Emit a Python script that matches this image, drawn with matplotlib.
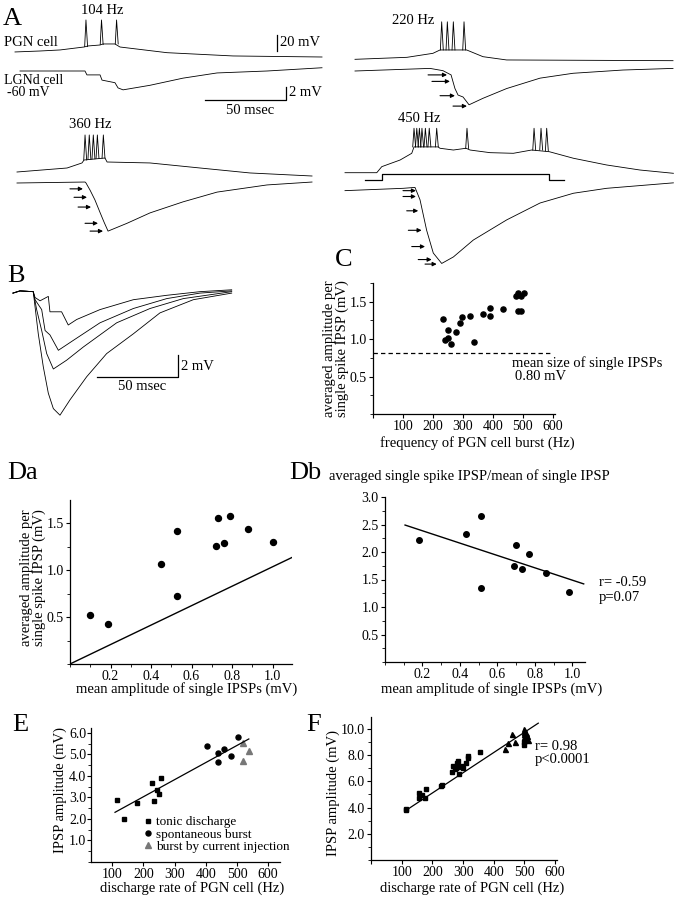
import numpy as np
import matplotlib
matplotlib.use("Agg")
import matplotlib.pyplot as plt
from matplotlib.ticker import MultipleLocator, FormatStrFormatter

W, H = 681, 899
PX_PER_MS = 1.62

plt.rcParams['font.family'] = ['Liberation Serif', 'DejaVu Serif']
plt.rcParams['font.size'] = 10.5

# ---------------- A: paired recordings (ms, mV) ----------------
# 104 Hz
pgn104_t = [0, 15.4, 27.8, 42.6, 45.1, 52.5, 54.3, 61.7, 64.8, 93.8, 134.6, 189.5]
pgn104_v = [6.3, 7.5, 8.8, 12.5, 13.8, 15.0, 16.3, 16.3, 12.5, 5.4, 1.3, 0.0]
pgn104_spk = [43.8, 53.4, 62.7]
pgn104_spk_base = [13.0, 15.5, 16.3]
pgn104_spk_peak = 46.3
lgn104_t = [3.1, 43.2, 44.4, 52.5, 53.7, 61.7, 63.6, 66.7, 83.3, 103.7, 124.7, 155.6, 189.5]
lgn104_v = [0, 0, -0.6, -0.6, -1.4, -1.8, -2.6, -2.9, -2.2, -1.1, -0.3, 0, 0.5]

# 220 Hz
pgn220_t = [0, 32.1, 48.1, 52.5, 68.9, 79.0, 93.6, 196.3]
pgn220_v = [2.1, 4.6, 9.6, 13.8, 13.8, 5.4, 1.3, 0.4]
pgn220_spk = [53.5, 57.0, 60.7, 67.3]
pgn220_spk_base = [13.8, 13.8, 13.8, 13.8]
pgn220_spk_peak = 49.0
lgn220_t = [0, 46.3, 54.3, 59.3, 61.7, 63.6, 66.7, 70.4, 79.0, 93.6, 114.2, 134.6, 165.4, 196.3]
lgn220_v = [0, 0.4, 0.05, -0.6, -2.7, -3.7, -4.0, -5.2, -4.2, -2.7, -1.1, -0.35, 0.15, 0.4]
arr220_v = [-0.6, -1.6, -3.8, -5.4]
arr220_tail = [45.1, 47.5, 52.5, 60.5]
arr220_head = [56.8, 58.6, 61.7, 69.1]

# 360 Hz
pgn360_t = [0, 30.9, 40.1, 41.4, 54.3, 55.6, 82.1, 113.0, 143.8, 182.1]
pgn360_v = [5, 10, 16.3, 20, 22.5, 17.5, 16.3, 10, 3.8, 0]
pgn360_spk = [42.0, 44.6, 47.1, 49.6, 53.3]
pgn360_spk_base = [20, 21, 21.5, 22, 22.3]
pgn360_spk_peak = 51.3
lgn360_t = [0, 42, 42.6, 45.1, 48.1, 51.2, 53.7, 56.2, 67.9, 82.1, 102.5, 123.5, 154.3, 182.1]
lgn360_v = [0, 0.15, 0, -1.1, -2.6, -4.5, -6.0, -7.4, -6.2, -4.6, -2.9, -1.4, -0.3, 0.15]
arr360_v = [-0.9, -2.2, -3.7, -6.2, -7.4]
arr360_tail = [32.7, 35.2, 37.7, 42.0, 45.1]
arr360_head = [40.7, 43.2, 45.7, 50.0, 53.1]

# 450 Hz
pgn450_t = [0, 19.6, 22.7, 34, 41.2, 42.6, 57.5, 58.6, 66.9, 74.7, 77.2, 89.5, 103.9, 115.2,
            126.1, 141, 161.5, 182.1, 202.7]
pgn450_v = [0.75, 0.75, 8.3, 16.6, 25, 33, 33, 31.3, 29.1, 31.3, 29.1, 25.8, 25, 29.1,
            27, 18.8, 10.4, 4.1, 0]
pgn450_spk = [42.6, 44.3, 45.9, 47.5, 49.6, 52.0, 56.6, 75.3, 116.7, 121.0, 124.5]
pgn450_spk_base = [33, 33, 33, 33, 33, 33, 33, 31, 29, 29, 28]
pgn450_spk_peak = 56.3
step450_t = [12.3, 22.7, 22.7, 125.7, 125.7, 135.4]
step450_v = [-8.4, -8.4, -0.9, -0.9, -8.4, -8.4]
lgn450_t = [0, 36, 43.2, 46.3, 50.4, 54.5, 59.7, 66.9, 79.2, 99.8, 120.4, 141, 161.5, 202.7]
lgn450_v = [-0.1, 0.26, 0.4, -1.5, -6.2, -9.7, -11.3, -10.3, -7.7, -4.6, -2.0, -0.5, 0.26, 1.1]
arr450_v = [-0.1, -1.0, -3.2, -6.2, -8.7, -10.7, -11.4]
arr450_tail = [35.8, 35.8, 38.1, 39.1, 41.2, 45.2, 49.4]
arr450_head = [43.8, 43.8, 45.2, 47.3, 49.4, 53.5, 56.6]

# ---------------- B: superimposed IPSPs (ms, mV) ----------------
b1_t = [0, 4.3, 12.5, 13.6, 16.7, 21.8, 22.8, 30.0, 34.1, 39.3, 53.7, 74.3, 94.9, 115.4, 135]
b1_v = [-0.1, 0.1, 0.03, -0.5, -0.8, -0.4, -1.8, -1.8, -3.0, -2.5, -1.6, -0.7, -0.3, 0.03, 0.2]
b2_t = [0, 4.3, 12.5, 13.6, 17.7, 19.8, 22.8, 28.0, 37.2, 53.7, 74.3, 94.9, 115.4, 135]
b2_v = [-0.1, 0.1, 0.03, -0.7, -1.6, -3.5, -3.9, -5.3, -4.4, -2.8, -1.5, -0.6, -0.1, 0.1]
b3_t = [0, 4.3, 12.5, 14.6, 17.7, 20.8, 24.9, 33.1, 43.4, 64.0, 84.6, 105.1, 135]
b3_v = [-0.1, 0.1, 0.03, -1.6, -3.5, -5.6, -7.0, -6.2, -5.0, -2.8, -1.5, -0.6, 0.03]
b4_t = [0, 4.3, 12.5, 15.6, 18.7, 21.8, 24.9, 29.0, 35.2, 45.5, 57.8, 74.3, 90.7, 111.3, 135]
b4_v = [-0.1, 0.1, 0.03, -3.8, -6.8, -9.2, -10.6, -11.2, -9.8, -7.7, -5.6, -3.8, -1.9, -0.7, -0.1]

# ---------------- C ----------------
c_freq = [232, 239, 249, 249, 261, 276, 291, 298, 324, 337, 366, 391, 391, 435,
          478, 484, 495, 504, 482, 495]
c_amp = [1.27, 0.99, 1.12, 1.02, 0.93, 1.10, 1.21, 1.30, 1.31, 0.96, 1.33, 1.31, 1.42, 1.40,
         1.58, 1.62, 1.58, 1.62, 1.38, 1.37]
c_single_mean = 0.82
c_dash_end = 590

# ---------------- Da / Db ----------------
da_single = [0.10, 0.19, 0.45, 0.53, 0.53, 0.72, 0.73, 0.76, 0.79, 0.88, 1.00]
da_avg = [0.52, 0.43, 1.06, 1.42, 0.72, 1.26, 1.55, 1.29, 1.57, 1.44, 1.30]
da_line_x = [0, 1.165]
da_line_y = [0, 1.205]

db_single = [0.18, 0.43, 0.51, 0.51, 0.70, 0.69, 0.73, 0.77, 0.86, 0.98]
db_ratio = [2.22, 2.33, 2.66, 1.34, 2.12, 1.75, 1.70, 1.96, 1.62, 1.28]
db_fit_x = [0.107, 1.06]
db_fit_y = [2.49, 1.42]

# ---------------- E ----------------
e_tonic_hz = [115, 137, 178, 228, 255, 245, 250, 234]
e_tonic_mv = [2.88, 2.00, 2.76, 3.66, 3.91, 3.36, 3.18, 2.84]
e_spont_hz = [404, 440, 440, 459, 481, 504]
e_spont_mv = [5.38, 5.05, 4.67, 5.26, 4.92, 5.81]
e_inj_hz = [519, 519, 538]
e_inj_mv = [5.53, 4.71, 5.14]
e_fit_x = [109, 538]
e_fit_y = [2.31, 5.72]

# ---------------- F ----------------
f_sq_hz = [113, 115, 156, 158, 165, 176, 178, 228, 231, 263, 268, 274, 279, 284, 288, 295,
           276, 282, 300, 309, 317, 317, 355, 497, 497]
f_sq_mv = [3.90, 3.78, 5.14, 4.72, 4.92, 4.76, 5.44, 5.65, 5.74, 6.67, 7.18, 6.92, 7.43, 7.12,
           6.56, 7.18, 7.00, 7.55, 7.00, 7.38, 7.94, 7.78, 8.27, 9.03, 8.78]
f_tri_hz = [436, 445, 460, 469, 497, 499, 506, 508, 497, 510, 497]
f_tri_mv = [8.47, 8.90, 9.62, 9.03, 9.97, 9.79, 9.67, 9.47, 9.37, 9.11, 9.60]
f_fit_x = [121, 545]
f_fit_y = [3.89, 10.43]

fig = plt.figure(figsize=(W / 100, H / 100), dpi=100)


def ptext(x, y, s, **kw):
    kw.setdefault('va', 'center')
    kw.setdefault('ha', 'left')
    return fig.text(x / W, 1 - y / H, s, **kw)


def trace_axes(x0, y0, sy, t_lim, v_lim):
    left = x0 + t_lim[0] * PX_PER_MS
    width = (t_lim[1] - t_lim[0]) * PX_PER_MS
    bottom = y0 - v_lim[0] * sy
    height = (v_lim[1] - v_lim[0]) * sy
    ax = fig.add_axes([left / W, 1 - bottom / H, width / W, height / H])
    ax.set_xlim(*t_lim)
    ax.set_ylim(*v_lim)
    ax.axis('off')
    return ax


def draw_pgn(ax, t, v, spk, base, peak):
    ax.plot(t, v, color='k', lw=0.6)
    for ts, b in zip(spk, base):
        ax.plot([ts - 0.8, ts, ts + 1.0], [b, peak, b], color='k', lw=0.6)


def draw_arrows(ax, vs, tails, heads):
    for v, t0, t1 in zip(vs, tails, heads):
        ax.annotate('', xy=(t1, v), xytext=(t0, v),
                    arrowprops=dict(arrowstyle='-|>', color='k', lw=0.8,
                                    mutation_scale=6, shrinkA=0, shrinkB=0))


PGN_LIM = (-12, 62)
LGN_LIM = (-14, 3)

# A 104 Hz
ax = trace_axes(15, 57, 0.8, (-5, 215), PGN_LIM)
draw_pgn(ax, pgn104_t, pgn104_v, pgn104_spk, pgn104_spk_base, pgn104_spk_peak)
ax.plot([161.7, 161.7], [7.5, 7.5 + 20], color='k', lw=0.9)
ax = trace_axes(15, 71, 6.5, (-5, 215), LGN_LIM)
ax.plot(lgn104_t, lgn104_v, color='k', lw=0.6)
ax.plot([117.3, 167.3, 167.3], [-4.46, -4.46, -2.46], color='k', lw=0.9)

# A 360 Hz
ax = trace_axes(17, 176, 0.8, (-5, 215), PGN_LIM)
draw_pgn(ax, pgn360_t, pgn360_v, pgn360_spk, pgn360_spk_base, pgn360_spk_peak)
ax = trace_axes(17, 183, 6.5, (-5, 215), LGN_LIM)
ax.plot(lgn360_t, lgn360_v, color='k', lw=0.6)
draw_arrows(ax, arr360_v, arr360_tail, arr360_head)

# A 220 Hz
ax = trace_axes(355, 61, 0.8, (-5, 200), PGN_LIM)
draw_pgn(ax, pgn220_t, pgn220_v, pgn220_spk, pgn220_spk_base, pgn220_spk_peak)
ax = trace_axes(355, 71, 6.5, (-5, 200), LGN_LIM)
ax.plot(lgn220_t, lgn220_v, color='k', lw=0.6)
draw_arrows(ax, arr220_v, arr220_tail, arr220_head)

# A 450 Hz
ax = trace_axes(345, 173.3, 0.8, (-5, 205), PGN_LIM)
draw_pgn(ax, pgn450_t, pgn450_v, pgn450_spk, pgn450_spk_base, pgn450_spk_peak)
ax.plot(step450_t, step450_v, color='k', lw=0.9)
ax = trace_axes(345, 190, 6.5, (-5, 205), LGN_LIM)
ax.plot(lgn450_t, lgn450_v, color='k', lw=0.6)
draw_arrows(ax, arr450_v, arr450_tail, arr450_head)

# B
ax = trace_axes(13, 292, 11, (-5, 140), (-12, 1))
for t, v in [(b1_t, b1_v), (b2_t, b2_v), (b3_t, b3_v), (b4_t, b4_v)]:
    ax.plot(t, v, color='k', lw=0.6)
ax.plot([51.9, 101.9, 101.9], [-7.7, -7.7, -5.7], color='k', lw=0.9)

# text for A and B
ptext(3, 19, 'A', fontsize=19)
ptext(102, 11, '104 Hz', ha='center')
ptext(4, 43, 'PGN cell')
ptext(280, 43, '20 mV')
ptext(4, 81, 'LGNd cell', fontsize=10)
ptext(7, 93, '-60 mV', fontsize=10)
ptext(289, 93, '2 mV')
ptext(250, 111, '50 msec', ha='center')
ptext(90, 125, '360 Hz', ha='center')
ptext(413, 20, '220 Hz', ha='center')
ptext(419, 118, '450 Hz', ha='center')
ptext(7, 276, 'B', fontsize=19)
ptext(181, 366, '2 mV')
ptext(142, 387, '50 msec', ha='center')


def scatter_axes(L, R, T, B, xlim, ylim):
    ax = fig.add_axes([L / W, 1 - B / H, (R - L) / W, (B - T) / H])
    ax.set_xlim(*xlim)
    ax.set_ylim(*ylim)
    for s in ['top', 'right']:
        ax.spines[s].set_visible(False)
    for s in ['left', 'bottom']:
        ax.spines[s].set_linewidth(0.9)
    ax.tick_params(direction='out', length=3, width=0.8, labelsize=10, pad=1.5)
    ax.tick_params(which='minor', direction='out', length=2, width=0.6)
    return ax


# C
ax = scatter_axes(373, 555, 283, 414, (0, 607), (0, 1.75))
ax.plot(c_freq, c_amp, 'o', color='k', ms=3.7)
ax.plot([0, c_dash_end], [c_single_mean, c_single_mean], color='k', lw=0.9,
        linestyle=(0, (3.5, 2.5)))
ax.set_xticks([0, 100, 200, 300, 400, 500, 600])
ax.set_xticklabels(['', '100', '200', '300', '400', '500', '600'])
ax.set_yticks([0.5, 1.0, 1.5])
ax.yaxis.set_major_formatter(FormatStrFormatter('%.1f'))
ax.yaxis.set_minor_locator(MultipleLocator(0.25))
ptext(335, 260, 'C', fontsize=19)
ptext(336, 349, 'averaged amplitude per\nsingle spike IPSP (mV)', ha='center',
      rotation=90, linespacing=1.0)
ptext(512, 363, 'mean size of single IPSPs')
ptext(515, 376, '0.80 mV')
ptext(477, 443, 'frequency of PGN cell burst (Hz)', ha='center')

# Da
ax = scatter_axes(70, 292, 500, 664, (0, 1.096), (0, 1.745))
ax.plot(da_single, da_avg, 'o', color='k', ms=4.3)
ax.plot(da_line_x, da_line_y, color='k', lw=1.0)
ax.set_xticks([0.2, 0.4, 0.6, 0.8, 1.0])
ax.xaxis.set_major_formatter(FormatStrFormatter('%.1f'))
ax.xaxis.set_minor_locator(MultipleLocator(0.1))
ax.set_yticks([0.5, 1.0, 1.5])
ax.yaxis.set_major_formatter(FormatStrFormatter('%.1f'))
ax.yaxis.set_minor_locator(MultipleLocator(0.25))
ptext(7, 473, 'Da', fontsize=19)
ptext(33, 578, 'averaged amplitude per\nsingle spike IPSP (mV)', ha='center',
      rotation=90, linespacing=1.0)
ptext(187, 689, 'mean amplitude of single IPSPs (mV)', ha='center')

# Db
ax = scatter_axes(385, 585, 497, 662, (0, 1.067), (0, 3.0))
ax.plot(db_single, db_ratio, 'o', color='k', ms=4.0)
ax.plot(db_fit_x, db_fit_y, color='k', lw=1.0)
ax.set_xticks([0.2, 0.4, 0.6, 0.8, 1.0])
ax.xaxis.set_major_formatter(FormatStrFormatter('%.1f'))
ax.xaxis.set_minor_locator(MultipleLocator(0.1))
ax.set_yticks([0.5, 1.0, 1.5, 2.0, 2.5, 3.0])
ax.yaxis.set_major_formatter(FormatStrFormatter('%.1f'))
ax.yaxis.set_minor_locator(MultipleLocator(0.25))
ptext(289, 473, 'Db', fontsize=19)
ptext(329, 476, 'averaged single spike IPSP/mean of single IPSP')
ptext(599, 582, 'r= -0.59')
ptext(599, 597, 'p=0.07')
ptext(492, 689, 'mean amplitude of single IPSPs (mV)', ha='center')

# E
ax = scatter_axes(91, 280, 728, 862, (32, 638), (0, 6.23))
ax.plot(e_tonic_hz, e_tonic_mv, 's', color='k', ms=3.4, label='tonic discharge')
ax.plot(e_spont_hz, e_spont_mv, 'o', color='k', ms=3.6, label='spontaneous burst')
ax.plot(e_inj_hz, e_inj_mv, '^', color='#777777', ms=3.8, label='burst by current injection')
ax.plot(e_fit_x, e_fit_y, color='k', lw=0.9)
ax.set_xticks([100, 200, 300, 400, 500, 600])
ax.set_yticks([1, 2, 3, 4, 5, 6])
ax.yaxis.set_major_formatter(FormatStrFormatter('%.1f'))
ax.yaxis.set_minor_locator(MultipleLocator(0.5))
ax.tick_params(axis='y', pad=0.5)
ax.legend(loc='upper left', bbox_to_anchor=(0.283, 0.343), frameon=False,
          borderaxespad=0, borderpad=0, handlelength=0.6, handletextpad=0.3,
          labelspacing=0.0, fontsize=9.5)
ptext(12, 725, 'E', fontsize=19)
ptext(60, 790, 'IPSP amplitude (mV)', ha='center', rotation=90)
ptext(192, 888, 'discharge rate of PGN cell (Hz)', ha='center')

# F
ax = scatter_axes(371, 557, 717, 860, (0, 606), (0, 10.9))
ax.plot(f_sq_hz, f_sq_mv, 's', color='k', ms=3.3)
ax.plot(f_tri_hz, f_tri_mv, '^', color='k', ms=3.6)
ax.plot(f_fit_x, f_fit_y, color='k', lw=0.9)
ax.set_xticks([0, 100, 200, 300, 400, 500, 600])
ax.set_xticklabels(['', '100', '200', '300', '400', '500', '600'])
ax.set_yticks([2, 4, 6, 8, 10])
ax.yaxis.set_major_formatter(FormatStrFormatter('%.1f'))
ax.yaxis.set_minor_locator(MultipleLocator(1))
ptext(306, 725, 'F', fontsize=19)
ptext(333, 793, 'IPSP amplitude (mV)', ha='center', rotation=90)
ptext(535, 746, 'r= 0.98')
ptext(535, 759, 'p<0.0001')
ptext(472, 888, 'discharge rate of PGN cell (Hz)', ha='center')

fig.savefig('out.png', dpi=100)
